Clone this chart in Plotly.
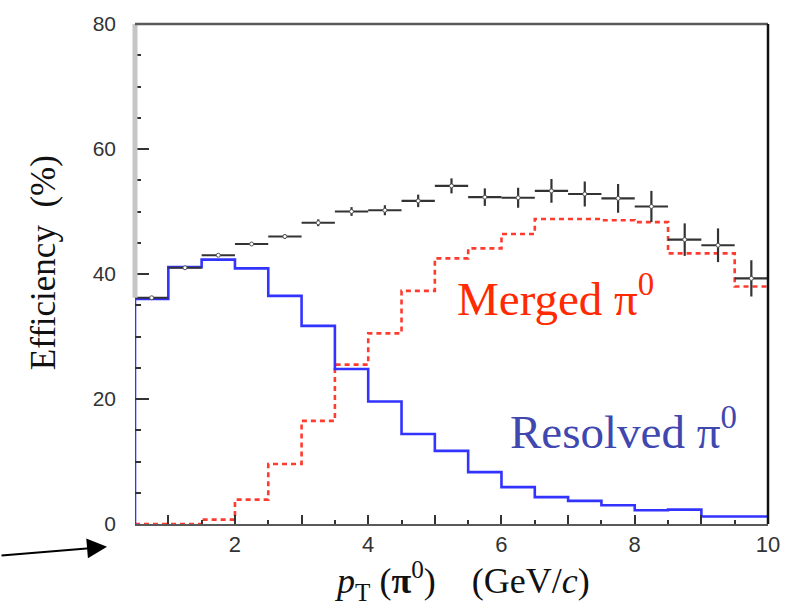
import plotly.graph_objects as go

# pT bins of width 0.5 GeV/c from 0.5 to 10
bin_lo = [0.5, 1.0, 1.5, 2.0, 2.5, 3.0, 3.5, 4.0, 4.5, 5.0,
          5.5, 6.0, 6.5, 7.0, 7.5, 8.0, 8.5, 9.0, 9.5]
bin_width = 0.5

# Reconstruction efficiency (%) per bin
resolved = [36.0, 41.1, 42.3, 40.9, 36.5, 31.7, 24.8, 19.6, 14.4, 11.7,
            8.3, 5.9, 4.3, 3.7, 3.0, 2.2, 2.3, 1.2, 1.2]
merged = [0.0, 0.0, 0.7, 3.9, 9.6, 16.5, 25.5, 30.5, 37.3, 42.5,
          44.1, 46.4, 48.8, 48.8, 48.6, 48.3, 43.3, 43.3, 38.0]
total = [36.2, 41.0, 43.0, 44.8, 46.0, 48.2, 50.0, 50.2, 51.7, 54.1,
         52.3, 52.2, 53.3, 52.8, 52.1, 50.8, 45.5, 44.6, 39.3]
total_err = [0.15, 0.15, 0.2, 0.3, 0.4, 0.55, 0.7, 0.8, 1.0, 1.2,
             1.4, 1.6, 1.9, 2.0, 2.3, 2.5, 2.6, 2.7, 2.9]

y_ticks = [0, 20, 40, 60, 80]
x_label_ticks = [2, 4, 6, 8, 10]
x_plain_ticks = [1, 3, 5, 7, 9]

x_min, x_max = 0.5, 10.0
y_min, y_max = 0.0, 80.0

edges = bin_lo + [bin_lo[-1] + bin_width]
centers = [b + bin_width / 2 for b in bin_lo]


def step_xy(values):
    # histogram outline that rises from zero at the first edge
    xs = [edges[0]] + edges
    ys = [0.0] + values + [values[-1]]
    return xs, ys


fig = go.Figure()

rx, ry = step_xy(merged)
fig.add_trace(go.Scatter(
    x=rx, y=ry, mode="lines", line_shape="hv",
    line=dict(color="#ff3b2f", width=2.6, dash="5px,4px"),
    showlegend=False, hoverinfo="skip",
))

bx, by = step_xy(resolved)
fig.add_trace(go.Scatter(
    x=bx, y=by, mode="lines", line_shape="hv",
    line=dict(color="#3333ff", width=2.6),
    showlegend=False, hoverinfo="skip",
))

fig.add_trace(go.Scatter(
    x=centers, y=total, mode="markers",
    marker=dict(symbol="circle", size=4, color="white",
                line=dict(color="#555555", width=1)),
    error_x=dict(type="constant", value=bin_width / 2, color="#333333",
                 thickness=2.2, width=0),
    error_y=dict(type="data", array=total_err, color="#333333",
                 thickness=2.2, width=0),
    showlegend=False, hoverinfo="skip",
))

# frame: grey bar on the left axis, grey top edge, black right edge
fig.add_shape(type="line", xref="paper", yref="y",
              x0=0, x1=0, y0=total[0], y1=y_max,
              line=dict(color="#c6c6c6", width=5))
fig.add_shape(type="line", xref="paper", yref="paper",
              x0=0, x1=1, y0=1, y1=1,
              line=dict(color="#5a5a5a", width=2.5))
fig.add_shape(type="line", xref="paper", yref="paper",
              x0=1, x1=1, y0=0, y1=1,
              line=dict(color="#111111", width=2.5))

serif = "Liberation Serif, Times New Roman, serif"

fig.add_annotation(
    xref="paper", yref="paper", x=0.506, y=0.458,
    xanchor="left", yanchor="middle", showarrow=False,
    text="Merged \u03c0<sup>0</sup>",
    font=dict(family=serif, size=47, color="#ff2a00"),
)
fig.add_annotation(
    xref="paper", yref="paper", x=0.589, y=0.191,
    xanchor="left", yanchor="middle", showarrow=False,
    text="Resolved \u03c0<sup>0</sup>",
    font=dict(family=serif, size=47, color="#4048b0"),
)
fig.add_annotation(
    xref="paper", yref="paper", x=-0.145, y=0.522,
    xanchor="center", yanchor="middle", showarrow=False, textangle=-90,
    text="Efficiency\u00a0\u00a0(%)",
    font=dict(family=serif, size=35, color="#111111"),
)
fig.add_annotation(
    xref="paper", yref="paper", x=0.517, y=-0.114,
    xanchor="center", yanchor="middle", showarrow=False,
    text="<i>p</i><sub>T</sub>\u00a0(<b>\u03c0</b><sup>0</sup>)\u00a0\u00a0\u00a0\u00a0(GeV/<i>c</i>)",
    font=dict(family=serif, size=36, color="#111111"),
)
# arrow pointing at the lower-left corner of the frame
fig.add_annotation(
    xref="paper", yref="paper", x=-0.0442, y=-0.0454,
    ax=-107, ay=9, text="", showarrow=True,
    arrowhead=2, arrowsize=2, arrowwidth=2, arrowcolor="#000000",
    standoff=0,
)

tick_font = dict(family="Liberation Sans, Arial, sans-serif",
                 size=22, color="#333333")

fig.update_layout(
    width=793, height=610,
    margin=dict(l=135, r=25, t=17, b=86),
    paper_bgcolor="white", plot_bgcolor="white",
    showlegend=False,
    xaxis=dict(
        range=[x_min, x_max], showgrid=False, zeroline=False,
        showline=True, linecolor="#5a5a5a", linewidth=2,
        tickmode="array", tickvals=x_label_ticks,
        ticks="inside", ticklen=9, tickwidth=2, tickcolor="#333333",
        minor=dict(dtick=0.5, tick0=0.5, ticks="inside", ticklen=4,
                   tickwidth=2, tickcolor="#333333", showgrid=False),
        tickfont=tick_font,
        ticklabelstandoff=0,
    ),
    # unlabeled integer ticks between the labeled ones
    xaxis2=dict(
        range=[x_min, x_max], overlaying="x", side="bottom",
        anchor="y", showgrid=False, zeroline=False, showline=False,
        tickmode="array", tickvals=x_plain_ticks,
        ticks="inside", ticklen=9, tickwidth=2, tickcolor="#333333",
        showticklabels=False,
    ),
    yaxis=dict(
        range=[y_min, y_max], showgrid=False, zeroline=False,
        showline=False,
        tickmode="array", tickvals=y_ticks,
        ticks="inside", ticklen=14, tickwidth=2, tickcolor="#333333",
        minor=dict(dtick=5, ticks="inside", ticklen=6, tickwidth=2,
                   tickcolor="#333333", showgrid=False),
        tickfont=dict(family="Liberation Sans, Arial, sans-serif",
                      size=21, color="#333333"),
        ticklabelstandoff=18,
    ),
)

# an invisible trace keeps the secondary x axis active
fig.add_trace(go.Scatter(
    x=[x_min, x_max], y=[y_min, y_min], xaxis="x2", mode="lines",
    line=dict(width=0), showlegend=False, hoverinfo="skip",
))

fig.write_html("out.html")
